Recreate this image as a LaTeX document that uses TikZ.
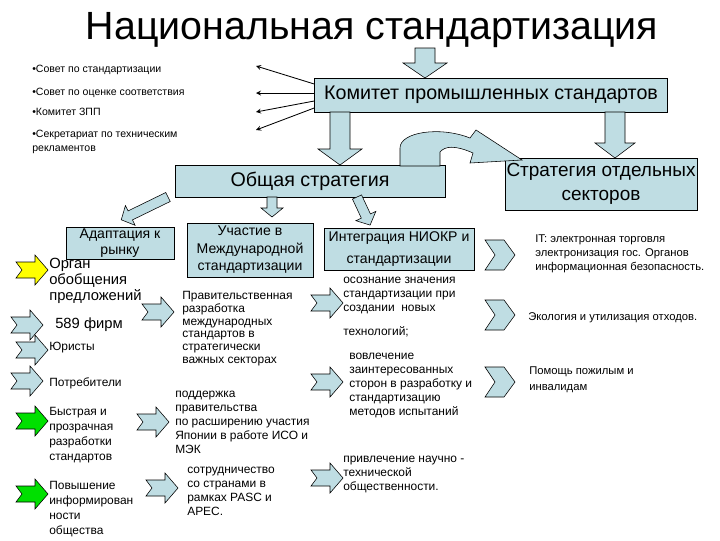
\documentclass[tikz,border=0pt]{standalone}
\usepackage{fontspec}
\setmainfont{Liberation Sans}
\usetikzlibrary{calc,arrows,positioning}
\definecolor{boxblue}{HTML}{BFDDE3}
\definecolor{arryellow}{HTML}{FFFF00}
\definecolor{arrgreen}{HTML}{00E000}
\tikzset{
      box/.style    = {draw=black, fill=boxblue, align=center, inner sep=1pt},
      txt/.style    = {anchor=north west, align=left, inner sep=0pt, font=\fontsize{8.5}{10}\selectfont},
      thinedge/.style = {black, semithick, ->, >=stealth},
      fat/.style    = {draw=black, fill=boxblue, line width=0.4pt},
    }
% notched block arrow pointing right
\newcommand{\blockarr}[3][boxblue]{
  \filldraw[fat, fill=#1, shift={(#2,#3)}] (-16,-8) -- (3,-8) -- (3,-15) -- (16,0) -- (3,15) -- (3,8) -- (-16,8) -- (-10,0) -- cycle;}
% chevron
\newcommand{\chev}[2]{
  \filldraw[fat, shift={(#1,#2)}] (-15,-15) -- (4,-15) -- (15,0) -- (4,15) -- (-15,15) -- (-5,0) -- cycle;}
% fat arrow: x, y, angle, length, shaft half, head half, head length
\newcommand{\fatarr}[7]{
  \begin{scope}[shift={(#1,#2)}, rotate=#3]
    \filldraw[fat] (0,-#5) -- ({#4-#7},-#5) -- ({#4-#7},-#6) -- (#4,0) -- ({#4-#7},#6) -- ({#4-#7},#5) -- (0,#5) -- cycle;
  \end{scope}}
\begin{document}
\begin{tikzpicture}[x=0.025cm, y=-0.025cm]
  \useasboundingbox (0,0) rectangle (720,540);

  \node (title) at (372,30) {\fontsize{28}{30}\selectfont Национальная стандартизация};

  % main boxes
  \node [box, minimum width=353*0.025cm, minimum height=34*0.025cm, font=\fontsize{14}{16}\selectfont] (kom) at (491,95) {Комитет промышленных стандартов};
  \node [box, minimum width=270*0.025cm, minimum height=32*0.025cm, font=\fontsize{14}{16}\selectfont] (obs) at (310,181) {Общая стратегия};
  \node [box, minimum width=187*0.025cm, minimum height=52*0.025cm, font=\fontsize{13.5}{17}\selectfont] (sect) at (601,184) {Стратегия отдельных\\секторов};
  \node [box, minimum width=108*0.025cm, minimum height=30*0.025cm, font=\fontsize{10}{11.5}\selectfont] (adapt) at (120,243) {Адаптация к\\рынку};
  \node [box, minimum width=126*0.025cm, minimum height=54*0.025cm, font=\fontsize{10}{12.5}\selectfont] (uch) at (250,250) {Участие в\\Международной\\стандартизации};
  \node [box, minimum width=150*0.025cm, minimum height=42*0.025cm, font=\fontsize{10}{15}\selectfont] (integ) at (399,249) {Интеграция НИОКР и\\стандартизации};

  % fat arrows
  \fatarr{425}{48}{-90}{30}{10}{22}{15}
  \fatarr{340}{112}{-90}{53}{10}{22}{16}
  \fatarr{615}{112}{-90}{46}{10}{20}{15}
  \fatarr{168}{197}{-154}{52}{5}{11}{10}
  \fatarr{272}{197}{-90}{20}{5}{11}{9}
  \fatarr{357}{197}{-65}{31}{5}{11}{10}
  \filldraw[fat] (400,166) -- (400,148) .. controls (400,132) and (440,126) .. (470,138)
    -- (476,130) -- (522,160) -- (470,163) -- (473,153) .. controls (455,145) and (445,146) .. (440,152) -- (440,166) -- cycle;

  % council list
  \node [txt, font=\fontsize{7.5}{9}\selectfont] (b1) at (32,65) {•Совет по стандартизации};
  \node [txt, font=\fontsize{7.5}{9}\selectfont] (b2) at (32,88) {•Совет по оценке соответствия};
  \node [txt, font=\fontsize{7.5}{9}\selectfont] (b3) at (32,108) {•Комитет ЗПП};
  \node [txt, font=\fontsize{7.5}{10}\selectfont] (b4) at (32,130) {•Секретариат по техническим\\рекламентов};
  \coordinate (e1) at (256,66);
  \coordinate (e2) at (256,93);
  \coordinate (e3) at (256,112);
  \coordinate (e4) at (256,130);
  \draw [thinedge] (kom.west |- 0,84) -- (e1);
  \draw [thinedge] (kom.west |- 0,93) -- (e2);
  \draw [thinedge] (kom.west |- 0,101) -- (e3);
  \draw [thinedge] (kom.west |- 0,108) -- (e4);

  % first column
  \blockarr[arryellow]{32}{270}
  \blockarr{27}{325}
  \blockarr{32}{350}
  \blockarr{27}{381}
  \blockarr[arrgreen]{32}{421}
  \blockarr[arrgreen]{32}{494}
  \node [txt, font=\fontsize{10.5}{11.5}\selectfont] (org) at (49,258) {Орган\\обобщения\\предложений};
  \node [txt, font=\fontsize{10.5}{12}\selectfont] (firm) at (55,318) {589 фирм};
  \node [txt] (jur) at (49,342) {Юристы};
  \node [txt] (potr) at (49,377) {Потребители};
  \node [txt, font=\fontsize{8.5}{10.7}\selectfont] (fast) at (49,407) {Быстрая и\\прозрачная\\разработки\\стандартов};
  \node [txt, font=\fontsize{8.5}{10.7}\selectfont] (inf) at (49,481) {Повышение\\информирован\\ности\\общества};

  % second column
  \blockarr{158}{312}
  \blockarr{153}{422}
  \blockarr{162}{488}
  \node [txt, font=\fontsize{8.5}{9.1}\selectfont] (gov) at (182,291) {Правительственная\\разработка\\международных\\стандартов в\\стратегически\\важных секторах};
  \node [txt, font=\fontsize{8.5}{9.9}\selectfont] (supp) at (175,391) {поддержка\\правительства\\по расширению участия\\Японии в работе ИСО и\\МЭК};
  \node [txt, font=\fontsize{8.5}{10}\selectfont] (coop) at (187,467) {сотрудничество\\со странами в\\рамках PASC и\\APEC.};

  % third column
  \blockarr{327}{303}
  \blockarr{327}{382}
  \blockarr{327}{478}
  \node [txt] (aware) at (343,277) {осознание значения\\стандартизации при\\создании \ новых};
  \node [txt] (tech) at (343,326) {технологий;};
  \node [txt] (invol) at (349,353) {вовлечение\\заинтересованных\\сторон в разработку и\\стандартизацию\\методов испытаний};
  \node [txt] (sci) at (343,456) {привлечение научно -\\технической\\общественности.};

  % sectors
  \chev{500}{255}
  \chev{500}{315}
  \chev{500}{382}
  \node [txt, font=\fontsize{8}{10}\selectfont] (it) at (535,234) {IT: электронная торговля\\электронизация гос. Органов\\информационная безопасность.};
  \node [txt, font=\fontsize{8}{10}\selectfont] (eco) at (528,312) {Экология и утилизация отходов.};
  \node [txt, font=\fontsize{8}{11.5}\selectfont] (help) at (529,366) {Помощь пожилым и\\инвалидам};
\end{tikzpicture}
\end{document}
